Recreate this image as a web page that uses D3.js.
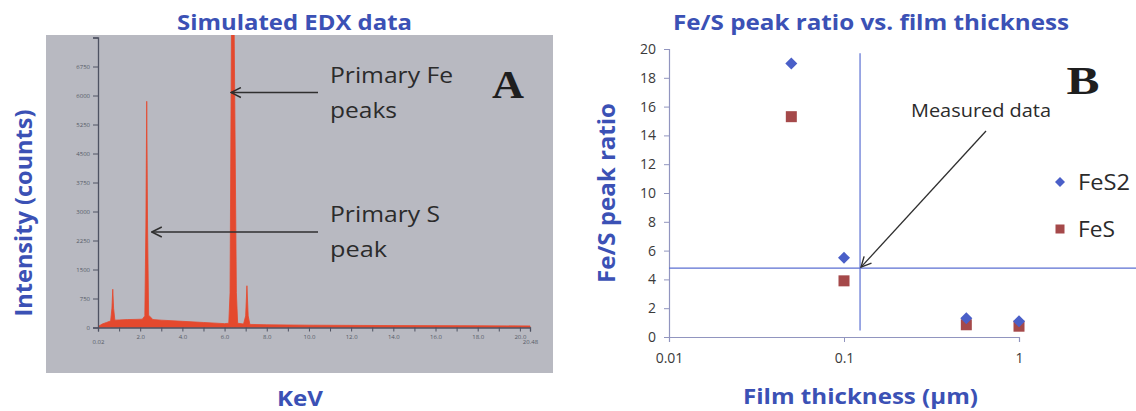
<!DOCTYPE html>
<html>
<head>
<meta charset="utf-8">
<script src="https://cdn.jsdelivr.net/npm/d3@7"></script>
<style>
  html, body { margin: 0; padding: 0; background: #fff; }
  svg { display: block; }
</style>
</head>
<body>
<svg id="chart" width="1136" height="411"></svg>
<script>
"use strict";

// ---- Panel A: simulated EDX spectrum ----
const spectrumKeV = [0, 0.05, 0.2, 0.4, 0.6, 0.66, 0.70, 0.74, 0.80, 1.0, 1.4, 1.8, 2.1, 2.22, 2.27, 2.31,
  2.35, 2.40, 2.6, 3.0, 4.0, 5.0, 6.0, 6.2, 6.26, 6.33, 6.36, 6.42, 6.45, 6.56, 6.62, 6.9, 7.0, 7.06,
  7.12, 7.2, 8.0, 10.0, 14.0, 18.0, 20.48];
const spectrumCounts = [0, 40, 90, 130, 170, 500, 990, 500, 190, 195, 205, 210, 215, 300, 2600, 5850,
  2600, 320, 205, 190, 160, 130, 100, 110, 900, 8000, 9500, 9500, 8000, 900, 110, 90, 300, 1080,
  300, 80, 70, 60, 50, 45, 40];
const aYTicks = [0, 750, 1500, 2250, 3000, 3750, 4500, 5250, 6000, 6750, 7500];
const aXTicks = [0, 1, 2, 3, 4, 5, 6, 7, 8, 9, 10, 11, 12, 13, 14, 15, 16, 17, 18, 19, 20, 20.48];
const aXLabels = { 2: '2.0', 4: '4.0', 6: '6.0', 8: '8.0', 10: '10.0', 12: '12.0', 14: '14.0', 16: '16.0', 18: '18.0', 20: '20.0' };

// ---- Panel B: Fe/S peak ratio vs film thickness ----
const thickness = [0.05, 0.1, 0.5, 1];
const fes2Ratio = [19.0, 5.5, 1.3, 1.1];
const fesRatio  = [15.3, 3.9, 0.85, 0.75];
const measuredThickness = 0.1235;
const measuredRatio = 4.78;
const bYTicks = [0, 2, 4, 6, 8, 10, 12, 14, 16, 18, 20];
const bXTicks = [0.01, 0.1, 1];
const bXLabels = ['0.01', '0.1', '1'];

const FONT = "'Open Sans', Lato, sans-serif";
const SERIF = "'Liberation Serif', 'DejaVu Serif', serif";
const TITLE_BLUE = '#3b51b5';
const svg = d3.select('#chart');

// text helper: width forced to what the picture shows
function label(parent, str, o) {
  const t = parent.append('text').text(str)
    .attr('font-family', o.family || FONT)
    .attr('font-size', o.size)
    .attr('font-weight', o.bold ? 'bold' : 'normal')
    .attr('fill', o.fill || '#2b2b2b')
    .attr('text-anchor', o.anchor || 'start');
  if (o.rotate) t.attr('transform', 'translate(' + o.x + ',' + o.y + ') rotate(-90)');
  else t.attr('x', o.x).attr('y', o.y);
  if (o.len) t.attr('textLength', o.len).attr('lengthAdjust', 'spacingAndGlyphs');
  return t;
}

const defs = svg.append('defs');
defs.append('marker').attr('id', 'openArrow').attr('viewBox', '0 0 12 12')
  .attr('refX', 11).attr('refY', 6).attr('markerWidth', 12).attr('markerHeight', 12)
  .attr('markerUnits', 'userSpaceOnUse').attr('orient', 'auto')
  .append('path').attr('d', 'M1,1 L11,6 L1,11').attr('fill', 'none')
  .attr('stroke', '#2f2f2f').attr('stroke-width', 1.4);

// ================= Panel A =================
const gA = svg.append('g');
gA.append('rect').attr('x', 46).attr('y', 35).attr('width', 507).attr('height', 338).attr('fill', '#b8b9c1');

const xA = d3.scaleLinear().domain([0, 20.48]).range([98, 530]);
const yA = d3.scaleLinear().domain([0, 7500]).range([327.5, 37.5]);

defs.append('clipPath').attr('id', 'clipA')
  .append('rect').attr('x', 46).attr('y', 35).attr('width', 507).attr('height', 300);

const spectrum = spectrumKeV.map((k, i) => ({ k, c: spectrumCounts[i] }));
gA.append('path')
  .datum(spectrum)
  .attr('clip-path', 'url(#clipA)')
  .attr('fill', '#e4492e')
  .attr('stroke', '#e4492e')
  .attr('stroke-width', 0.8)
  .attr('d', d3.area().x(d => xA(d.k)).y0(yA(0)).y1(d => yA(d.c)));

const axA = gA.append('g').attr('transform', 'translate(' + xA(0) + ',0)')
  .call(d3.axisLeft(yA).tickValues(aYTicks).tickSize(5)
    .tickFormat(d => d === 7500 ? '' : d));
const axAx = gA.append('g').attr('transform', 'translate(0,' + yA(0) + ')')
  .call(d3.axisBottom(xA).tickValues(aXTicks).tickSize(4)
    .tickFormat(d => d === 0 ? '0.02' : (aXLabels[d] || (d === 20.48 ? '20.48' : ''))));
[axA, axAx].forEach(ax => {
  ax.select('.domain').attr('stroke', '#4e5262').attr('stroke-width', 1.3);
  ax.selectAll('line').attr('stroke', '#4e5262');
  ax.selectAll('text').attr('fill', '#555a66').attr('font-size', 6).attr('font-family', FONT);
});
axAx.selectAll('text').filter(d => d === 0 || d === 20.48).attr('dy', '1.6em');

// annotations A
const annA = [
  { lines: ['Primary Fe', 'peaks'], y: 83, lens: [123, 67], tipK: 6.3, arrowY: 92.5 },
  { lines: ['Primary S', 'peak'],   y: 222, lens: [110, 57], tipK: 2.55, arrowY: 232 }
];
annA.forEach(a => {
  a.lines.forEach((t, i) => {
    label(gA, t, { x: 330, y: a.y + i * 35, size: 21.5, len: a.lens[i] });
  });
  gA.append('line').attr('x1', 318).attr('x2', xA(a.tipK)).attr('y1', a.arrowY).attr('y2', a.arrowY)
    .attr('stroke', '#2f2f2f').attr('stroke-width', 1.3).attr('marker-end', 'url(#openArrow)');
});

label(gA, 'A', { x: 508, y: 98, size: 41, bold: true, family: SERIF, anchor: 'middle', fill: '#1e1e1e', len: 32 });

// titles A
label(svg, 'Simulated EDX data', { x: 294.5, y: 30, size: 21, bold: true, anchor: 'middle', fill: TITLE_BLUE, len: 235 });
label(svg, 'Intensity (counts)', { x: 32, y: 213, size: 23, bold: true, anchor: 'middle', fill: TITLE_BLUE, len: 207, rotate: true });
label(svg, 'KeV', { x: 300, y: 406, size: 22, bold: true, anchor: 'middle', fill: TITLE_BLUE, len: 46 });

// ================= Panel B =================
const gB = svg.append('g');
const xB = d3.scaleLog().domain([0.01, 1]).range([669, 1019]);
const yB = d3.scaleLinear().domain([0, 20]).range([337, 49]);
const AXIS_B = '#9195bf';

const axBy = gB.append('g').attr('transform', 'translate(' + xB(0.01) + ',0)')
  .call(d3.axisLeft(yB).tickValues(bYTicks).tickSize(5).tickPadding(8));
const axBx = gB.append('g').attr('transform', 'translate(0,' + yB(0) + ')')
  .call(d3.axisBottom(xB).tickValues(bXTicks).tickSize(5).tickPadding(11)
    .tickFormat((d, i) => bXLabels[i]));
[axBy, axBx].forEach(ax => {
  ax.select('.domain').attr('stroke', AXIS_B).attr('stroke-width', 1.2);
  ax.selectAll('line').attr('stroke', AXIS_B);
  ax.selectAll('text').attr('fill', '#3a3a3a').attr('font-size', 14).attr('font-family', FONT);
});

// measured-data reference lines
const REF_BLUE = '#5b6fd2';
gB.append('line').attr('x1', xB(0.01)).attr('x2', 1136)
  .attr('y1', yB(measuredRatio)).attr('y2', yB(measuredRatio))
  .attr('stroke', REF_BLUE).attr('stroke-width', 1.2);
gB.append('line').attr('x1', xB(measuredThickness)).attr('x2', xB(measuredThickness))
  .attr('y1', yB(19.7)).attr('y2', yB(0.45))
  .attr('stroke', REF_BLUE).attr('stroke-width', 1.2);

// series
const diamond = s => 'M0,' + (-s) + 'L' + s + ',0L0,' + s + 'L' + (-s) + ',0Z';
gB.selectAll('.fes').data(thickness).enter().append('rect')
  .attr('x', (d) => xB(d) - 5.5).attr('y', (d, i) => yB(fesRatio[i]) - 5.5)
  .attr('width', 11).attr('height', 11).attr('fill', '#a5494a');
gB.selectAll('.fes2').data(thickness).enter().append('path')
  .attr('transform', (d, i) => 'translate(' + xB(d) + ',' + yB(fes2Ratio[i]) + ')')
  .attr('d', diamond(6)).attr('fill', '#4a5fc8');

// arrow + label
const tipX = xB(measuredThickness), tipY = yB(measuredRatio);
gB.append('line').attr('x1', 986).attr('y1', 131).attr('x2', tipX + 1).attr('y2', tipY - 1)
  .attr('stroke', '#2f2f2f').attr('stroke-width', 1.3).attr('marker-end', 'url(#openArrow)');
label(gB, 'Measured data', { x: 981, y: 117, size: 18.5, anchor: 'middle', len: 140 });

label(gB, 'B', { x: 1083, y: 94, size: 41, bold: true, family: SERIF, anchor: 'middle', fill: '#1e1e1e', len: 33 });

// legend
const legend = [
  { name: 'FeS2', y: 182, kind: 'diamond', color: '#4a5fc8', len: 52 },
  { name: 'FeS',  y: 229, kind: 'square',  color: '#a5494a', len: 37 }
];
legend.forEach(l => {
  if (l.kind === 'diamond') {
    gB.append('path').attr('transform', 'translate(1060,' + l.y + ')').attr('d', diamond(5)).attr('fill', l.color);
  } else {
    gB.append('rect').attr('x', 1055.5).attr('y', l.y - 4.5).attr('width', 9).attr('height', 9).attr('fill', l.color);
  }
  label(gB, l.name, { x: 1078, y: l.y + 8, size: 21, len: l.len });
});

// titles B
label(svg, 'Fe/S peak ratio vs. film thickness', { x: 871, y: 30, size: 21, bold: true, anchor: 'middle', fill: TITLE_BLUE, len: 396 });
label(svg, 'Fe/S peak ratio', { x: 615, y: 193, size: 23, bold: true, anchor: 'middle', fill: TITLE_BLUE, len: 180, rotate: true });
label(svg, 'Film thickness (µm)', { x: 860.5, y: 404, size: 22, bold: true, anchor: 'middle', fill: TITLE_BLUE, len: 235 });
</script>
</body>
</html>
